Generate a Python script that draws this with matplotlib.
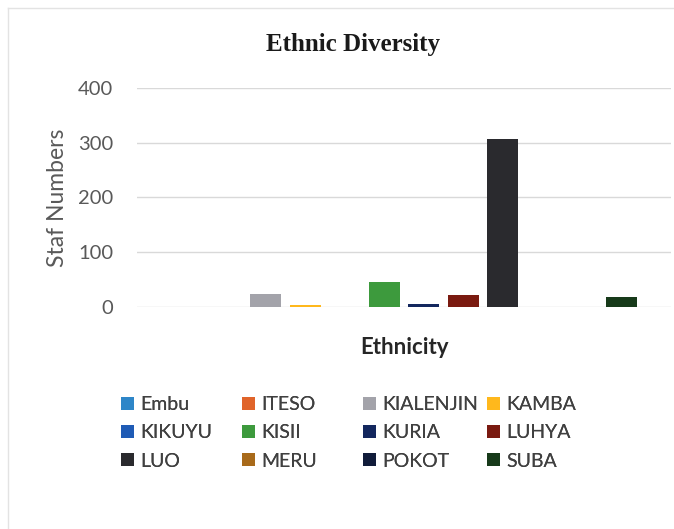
import numpy as np
import matplotlib
matplotlib.use("Agg")
import matplotlib.pyplot as plt
from matplotlib.patches import Patch
from matplotlib.lines import Line2D

# data
groups = ["Embu", "ITESO", "KIALENJIN", "KAMBA", "KIKUYU", "KISII",
          "KURIA", "LUHYA", "LUO", "MERU", "POKOT", "SUBA"]
staff = [0, 0, 24, 3, 0, 45, 5, 21, 306, 0, 0, 19]
colours = ["#2e86c8", "#e0642a", "#a3a3aa", "#ffb81c", "#1f5bb5", "#3d9a3d",
           "#13275e", "#7a1a10", "#2a2a2e", "#a86a1a", "#111c3a", "#173a1a"]
yticks = [0, 100, 200, 300, 400]

W, H = 674, 529
plt.rcParams['font.family'] = ['Lato', 'DejaVu Sans']
fig = plt.figure(figsize=(W / 100, H / 100), dpi=100)

# axes box in pixels (left, right, top, bottom)
L, R, T, B = 137, 671, 87.7, 307
ax = fig.add_axes([L / W, 1 - B / H, (R - L) / W, (B - T) / H])

x = np.arange(len(groups))
for i in range(len(groups)):
    ax.bar(x[i], staff[i], width=0.78, color=colours[i], label=groups[i], zorder=3)

ax.set_xlim(-1.249, 12.25)
ax.set_ylim(0, 400)
ax.set_yticks(yticks)
ax.set_xticks([])
ax.grid(axis='y', color='#d9d9d9', linewidth=1, zorder=0)
for s in ax.spines.values():
    s.set_visible(False)
ax.tick_params(axis='y', length=0, pad=17, labelsize=14.5, labelcolor='#595959')

ax.set_ylabel("Staf Numbers", fontsize=16.5, color='#595959', va='center')
ax.yaxis.set_label_coords((57 - L) / (R - L), 0.5)
ax.set_xlabel("Ethnicity", fontsize=16, fontweight='bold', color='#262626', va='center')
ax.xaxis.set_label_coords(0.5, -(347 - B) / (B - T))

fig.text(353 / W, 1 - 44 / H, "Ethnic Diversity", family='Liberation Serif',
         fontsize=18, fontweight='bold', color='#1a1a1a', ha='center', va='center')

# legend: four evenly spaced columns of three rows, like the original
col_x = [121, 242, 363, 487]
handles = [Patch(facecolor=c, edgecolor='none') for c in colours]
for c in range(4):
    idx = [c, c + 4, c + 8]
    leg = fig.legend([handles[i] for i in idx], [groups[i] for i in idx],
                     loc='center left', bbox_to_anchor=(col_x[c] / W, 1 - 433 / H),
                     frameon=False, fontsize=14, handlelength=0.65, handleheight=0.65,
                     handletextpad=0.36, borderpad=0, borderaxespad=0, labelspacing=0.58,
                     labelcolor='#404040')
    fig.add_artist(leg)

# faint chart-area border
fig.add_artist(Line2D([8 / W, 1], [1 - 8 / H, 1 - 8 / H], color='#e3e3e3', lw=1))
fig.add_artist(Line2D([8 / W, 8 / W], [0, 1 - 8 / H], color='#e3e3e3', lw=1))

fig.savefig("out.png", dpi=100)
